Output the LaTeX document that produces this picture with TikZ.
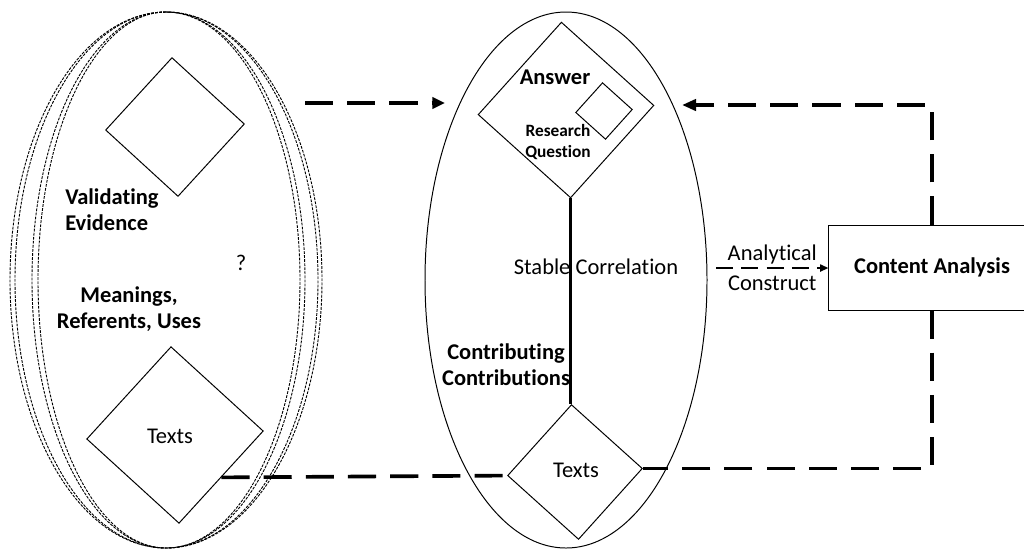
\documentclass[tikz,border=0pt]{standalone}
\usepackage{fontspec}
\setmainfont[Ligatures=NoCommon]{Carlito}
\usetikzlibrary{shapes.geometric,arrows.meta}
\begin{document}
\begin{tikzpicture}[x=0.025cm,y=-0.025cm]
  % Styles
  \tikzstyle{dotted line}=[line width=0.65pt,dash pattern=on 2pt off 0.9pt]
  \tikzstyle{diamond box}=[diamond,draw,line width=0.7pt,inner sep=0pt,aspect=1]
  \tikzstyle{bold text}=[font=\fontsize{16}{18.5}\selectfont\bfseries,inner sep=0pt]
  \tikzstyle{plain text}=[font=\fontsize{16}{18.5}\selectfont,inner sep=0pt]
  \tikzstyle{small text}=[font=\fontsize{12.3}{15.6}\selectfont\bfseries,inner sep=0pt]
  \tikzstyle{flow line}=[line width=2.6pt,dash pattern=on 20pt off 10pt]
  \tikzstyle{construct line}=[line width=1.4pt,dash pattern=on 12pt off 6pt]

  \path[use as bounding box,clip] (0,0) rectangle (1024,549);

  % The graphic
  % left side: the dotted ovals
  \foreach \l/\r in {156/139,151/134,134/156,128/152}
    \draw[dotted line] (166,12)
      arc[start angle=270,end angle=90,x radius=\l,y radius=268]
      arc[start angle=90,end angle=-90,x radius=\r,y radius=268];

  \node[diamond box,minimum size=3.475cm,rotate=2.5] (ev) at (175,127) {};
  \node[diamond box,minimum size=4.42cm,rotate=2.6] (lt) at (175,435) {};
  \node[plain text] at (170,436) {Texts};

  \node[bold text,align=left,anchor=west] (valid) at (65,210) {Validating\\Evidence};
  \node[plain text] (what) at (241,263) {?};
  \node[bold text,align=center] (mean) at (129,309) {Meanings,\\Referents, Uses};

  % middle oval
  \draw[line width=0.7pt] (566,280) ellipse [x radius=141,y radius=268];

  \node[diamond box,minimum size=4.4cm,rotate=3] (ans) at (566,110) {};
  \node[diamond box,minimum size=1.42cm,rotate=3] (rq) at (604,111) {};
  \node[diamond box,minimum size=3.375cm,rotate=3] (mt) at (575,472) {};

  \node[bold text] (answer) at (555,77) {Answer};
  \node[small text,align=center] (quest) at (558,142) {Research\\Question};
  \node[plain text] (mtext) at (576,470) {Texts};
  \node[plain text] (stable) at (596,267) {Stable Correlation};
  \node[bold text,align=center] (contrib) at (506,365) {Contributing\\Contributions};

  \draw[line width=2.2pt] (ans.south) -- (ans.south |- mt.north);

  % right side
  \node[draw,line width=0.7pt,minimum width=5.15cm,minimum height=2.125cm,bold text]
    (ca) at (932,267.5) {Content Analysis};

  \coordinate (out) at (305,103);
  \coordinate (in) at (445,103);
  \coordinate (back) at (682,105);
  \coordinate (ac) at (716,268);

  \draw[flow line,-{Triangle[length=9pt,width=8pt]}] (out) -- (in);
  \draw[flow line,-{Triangle[length=10pt,width=8pt]}] (ca.north) |- (back);
  \draw[flow line] (ca.south) |- (mt.east);
  \draw[flow line] (lt.south east) -- (mt.west);

  \draw[construct line,-{Triangle[length=6pt,width=5pt]}] (ac) --
    node[plain text,above=2pt] {Analytical}
    node[plain text,below=5pt] {Construct} (ac -| ca.west);
\end{tikzpicture}
\end{document}
